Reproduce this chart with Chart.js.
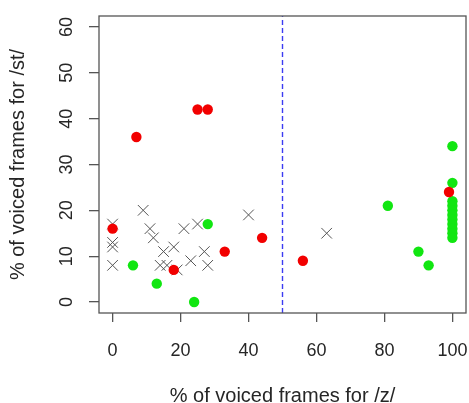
<!DOCTYPE html>
<html lang="en">
<head>
  <meta charset="UTF-8">
  <title>Voiced frames /z/ vs /st/</title>
  <script src="https://cdn.jsdelivr.net/npm/chart.js"></script>
  <style>
    body {
      margin: 0;
      background: #fff;
    }
    #wrap {
      width: 469px;
      height: 403px;
    }
  </style>
</head>
<body>
  <div id="wrap"><canvas id="chart"></canvas></div>

  <script>
    // values: [% voiced /z/, % voiced /st/]
    const redPoints = [[0, 16], [7, 36], [18, 7], [25, 42], [28, 42], [33, 11], [44, 14], [56, 9], [99, 24]];
    const greenPoints = [[6, 8], [13, 4], [24, 0], [28, 17], [81, 21], [90, 11], [93, 8],
      [100, 34], [100, 26], [100, 22], [100, 21], [100, 20], [100, 19], [100, 18], [100, 17], [100, 16], [100, 15], [100, 14]];
    const crossPoints = [[0, 17], [0, 13], [0, 12], [0, 8], [9, 20], [11, 16], [12, 14], [14, 8], [15, 11], [16, 8],
      [18, 12], [19, 7], [21, 16], [23, 9], [25, 17], [27, 11], [28, 8], [40, 19], [63, 15]];
    const cutoff = [50];
    const xTicks = [0, 20, 40, 60, 80, 100];
    const yTicks = [0, 10, 20, 30, 40, 50, 60];
    const xRange = [-4, 104];
    const yRange = [-2.4, 62.4];

    const FONT = '"Liberation Sans", Arial, sans-serif';
    const toXY = arr => arr.map(p => ({ x: p[0], y: p[1] }));

    // box around the plot + rotated y tick labels (R style)
    const rStyle = {
      id: 'rStyle',
      afterDraw(chart) {
        const ctx = chart.ctx;
        const a = chart.chartArea;
        ctx.save();
        ctx.strokeStyle = '#555';
        ctx.lineWidth = 1.3;
        ctx.strokeRect(a.left, a.top, a.right - a.left, a.bottom - a.top);
        const ys = chart.scales.y;
        ctx.fillStyle = '#262626';
        ctx.font = '18px ' + FONT;
        ctx.textAlign = 'center';
        ctx.textBaseline = 'middle';
        ys.ticks.forEach(t => {
          ctx.save();
          ctx.translate(66, ys.getPixelForValue(t.value));
          ctx.rotate(-Math.PI / 2);
          ctx.fillText(String(t.value), 0, 1);
          ctx.restore();
        });
        ctx.restore();
      }
    };

    new Chart(document.getElementById('chart'), {
      type: 'scatter',
      data: {
        datasets: [
          {
            label: 'red',
            data: toXY(redPoints),
            pointStyle: 'circle',
            pointRadius: 5.2,
            pointBorderWidth: 0,
            backgroundColor: '#f20000'
          },
          {
            label: 'green',
            data: toXY(greenPoints),
            pointStyle: 'circle',
            pointRadius: 5.2,
            pointBorderWidth: 0,
            backgroundColor: '#11e611'
          },
          {
            label: 'cross',
            data: toXY(crossPoints),
            pointStyle: 'crossRot',
            pointRadius: 7.5,
            pointBorderWidth: 1,
            borderColor: '#555',
            backgroundColor: '#555'
          },
          {
            label: 'cutoff',
            data: [{ x: cutoff[0], y: yRange[0] }, { x: cutoff[0], y: yRange[1] }],
            showLine: true,
            pointRadius: 0,
            borderColor: '#3c3cf2',
            borderWidth: 1.4,
            borderDash: [5, 3]
          }
        ]
      },
      options: {
        responsive: true,
        maintainAspectRatio: false,
        animation: false,
        layout: { autoPadding: false, padding: { left: 0, right: 3, top: 16, bottom: 0 } },
        plugins: {
          legend: { display: false },
          tooltip: { enabled: false }
        },
        scales: {
          x: {
            type: 'linear',
            min: xRange[0],
            max: xRange[1],
            afterBuildTicks: s => { s.ticks = xTicks.map(v => ({ value: v })); },
            afterFit: s => { s.height = 90; s.paddingLeft = 0; s.paddingRight = 0; },
            border: { display: false },
            grid: { drawOnChartArea: false, drawTicks: true, tickLength: 9, color: '#555', lineWidth: 1.3 },
            ticks: { color: '#262626', font: { family: FONT, size: 18 }, padding: 18, maxRotation: 0 },
            title: {
              display: true,
              text: '% of voiced frames for /z/',
              color: '#262626',
              font: { family: FONT, size: 20 },
              padding: { top: 0, bottom: -5 }
            }
          },
          y: {
            type: 'linear',
            min: yRange[0],
            max: yRange[1],
            afterBuildTicks: s => { s.ticks = yTicks.map(v => ({ value: v })); },
            afterFit: s => { s.width = 99; s.paddingTop = 0; s.paddingBottom = 0; },
            border: { display: false },
            grid: { drawOnChartArea: false, drawTicks: true, tickLength: 10, color: '#555', lineWidth: 1.3 },
            ticks: { display: false },
            title: {
              display: true,
              text: '% of voiced frames for /st/',
              color: '#262626',
              font: { family: FONT, size: 20 },
              padding: { top: 6, bottom: 0 }
            }
          }
        }
      },
      plugins: [rStyle]
    });
  </script>
</body>
</html>
